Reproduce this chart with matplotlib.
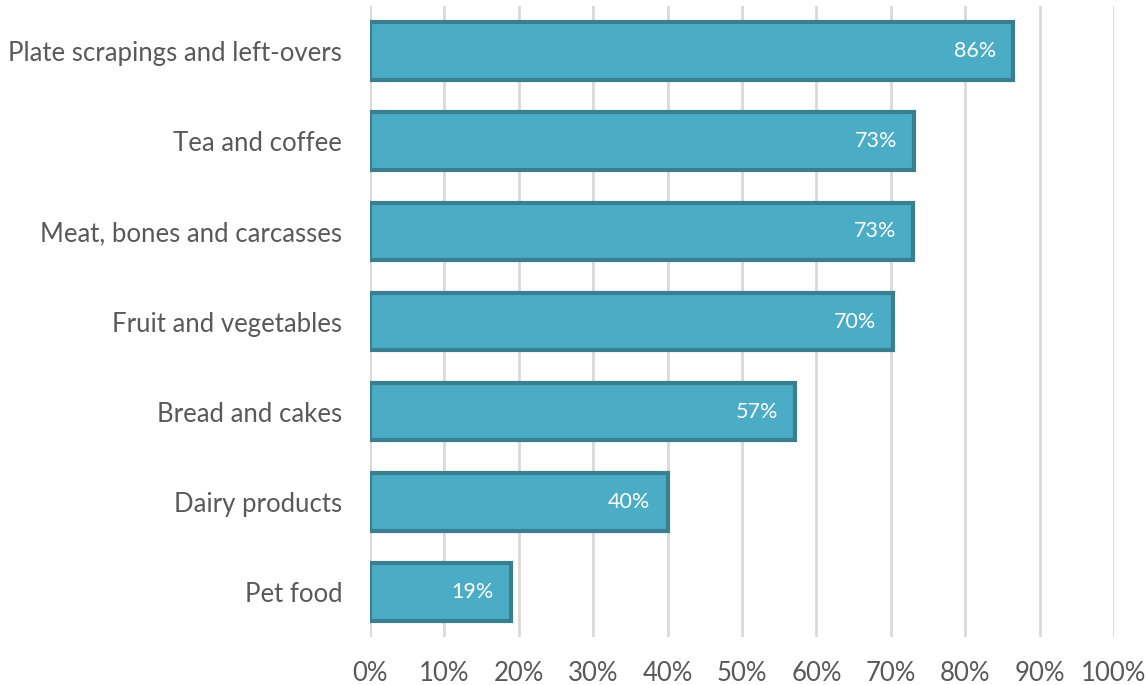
import matplotlib
matplotlib.use("Agg")
import matplotlib.pyplot as plt
from matplotlib.ticker import FuncFormatter, MultipleLocator

categories = ["Plate scrapings and left-overs", "Tea and coffee", "Meat, bones and carcasses",
              "Fruit and vegetables", "Bread and cakes", "Dairy products", "Pet food"]
values = [86.4, 73.1, 73.0, 70.3, 57.1, 40.0, 18.9]
labels = ["86%", "73%", "73%", "70%", "57%", "40%", "19%"]

plt.rcParams['font.family'] = ['Lato', 'DejaVu Sans']
text_color = '#595959'

fig = plt.figure(figsize=(11.48, 6.85), dpi=100)
ax = fig.add_axes([370/1148, 1-637/685, (1114-370)/1148, (637-6)/685])

y = list(range(len(categories)))
ax.barh(y, values, height=0.64, color='#4BACC6', edgecolor='#3A7F8F', linewidth=3, zorder=3)
for yi, v, lab in zip(y, values, labels):
    ax.text(v - 2.3, yi, lab, ha='right', va='center', color='white', fontsize=15.5, zorder=4)

ax.set_xlim(0, 100)
ax.set_ylim(len(categories) - 0.5, -0.5)
ax.set_yticks(y)
ax.set_yticklabels(categories, fontsize=18.5, color=text_color)
ax.xaxis.set_major_locator(MultipleLocator(10))
ax.xaxis.set_major_formatter(FuncFormatter(lambda v, p: f"{int(v)}%"))
ax.tick_params(axis='x', labelsize=18.5, colors=text_color, length=0, pad=17)
ax.tick_params(axis='y', length=0, pad=20)
ax.grid(axis='x', color='#D9D9D9', linewidth=2, zorder=0)
for s in ax.spines.values():
    s.set_visible(False)

fig.savefig("out.png", dpi=100)
